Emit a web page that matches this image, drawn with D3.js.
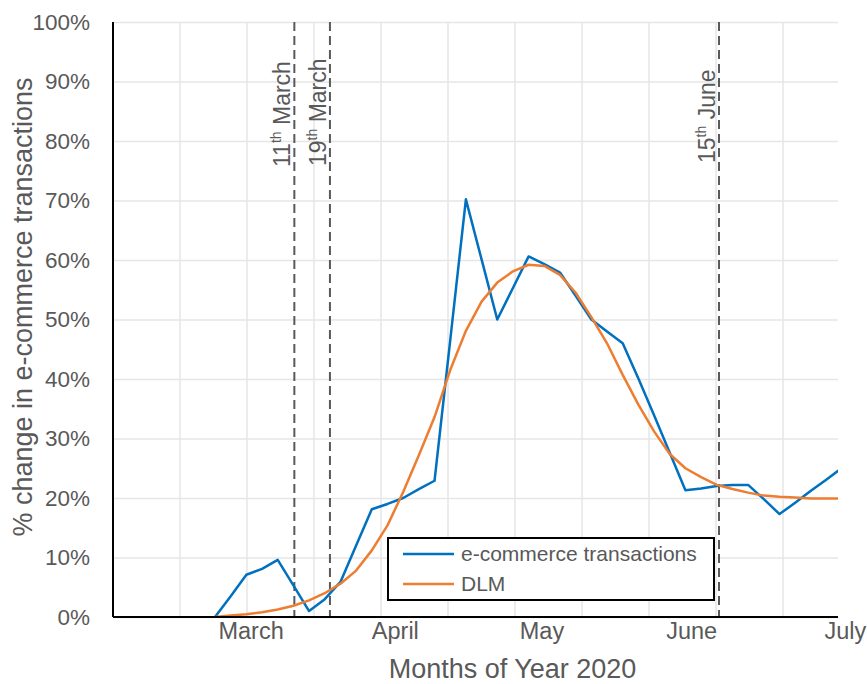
<!DOCTYPE html>
<html>
<head>
<meta charset="utf-8">
<script src="https://cdn.jsdelivr.net/npm/d3@7"></script>
<style>
  body { margin: 0; background: #fff; }
  text { font-family: "Liberation Sans", Arial, sans-serif; fill: #595959; }
</style>
</head>
<body>
<svg id="chart" width="867" height="684"></svg>
<script>
// Observation index (roughly twice a week) for both series
const ecommerce = [0, 3.5, 7.1, 8.1, 9.6, 5.3, 1.0, 3.0, 5.9, 12.0,
  18.1, 19.0, 20.0, 21.5, 22.9, 46.5, 70.2, 60.1, 50.0, 55.3,
  60.6, 59.3, 57.9, 54.0, 50.0, 48.0, 46.0, 40.1, 33.9, 27.6,
  21.3, 21.6, 22.0, 22.2, 22.2, 19.8, 17.3, 19.2, 21.2, 23.1, 25.1];
const dlm = [0, 0.25, 0.45, 0.8, 1.25, 1.9, 2.8, 4.0, 5.6, 7.8,
  11.2, 15.4, 21.0, 27.2, 33.6, 41.5, 48.1, 53.0, 56.2, 58.1,
  59.2, 59.0, 57.5, 54.5, 50.4, 46.0, 40.7, 35.7, 31.2, 27.4,
  25.0, 23.5, 22.2, 21.5, 20.9, 20.4, 20.2, 20.1, 19.9, 19.9, 19.9];

const monthLabels = ["March", "April", "May", "June", "July"];
const monthAt = [2.3, 11.5, 20.85, 30.4, 40.2];   // index where each month label is centred
const yTicks = [0, 10, 20, 30, 40, 50, 60, 70, 80, 90, 100];
const events = [
  { num: "11", sup: "th", rest: " March", at: 5.06, base: 167 },
  { num: "19", sup: "th", rest: " March", at: 7.33, base: 166 },
  { num: "15", sup: "th", rest: " June", at: 32.14, base: 163 }
];
const seriesNames = ["e-commerce transactions", "DLM"];
const seriesColors = ["#0070C0", "#ED7D31"];

const W = 867, H = 684;
const margin = { top: 22, right: 29, bottom: 67, left: 113 };
const iw = W - margin.left - margin.right;
const ih = H - margin.top - margin.bottom;

const svg = d3.select("#chart");
const g = svg.append("g").attr("transform", `translate(${margin.left},${margin.top})`);

const x = d3.scaleLinear().domain([-6.505, 39.73]).range([0, iw]);
const y = d3.scaleLinear().domain([0, 100]).range([ih, 0]);

// Vertical grid, evenly spaced across the plot
const gridStep = 4.273;
const vGrid = d3.range(x.domain()[0] + gridStep, x.domain()[1], gridStep);
g.append("g").selectAll("line").data(vGrid).join("line")
  .attr("x1", d => x(d)).attr("x2", d => x(d))
  .attr("y1", 0).attr("y2", ih)
  .attr("stroke", "#e6e6e6").attr("stroke-width", 1.5);

// Y axis: labels plus horizontal grid
const yAxis = g.append("g")
  .call(d3.axisLeft(y).tickValues(yTicks).tickFormat(d => d + "%").tickSize(-iw).tickPadding(23));
yAxis.select(".domain").remove();
yAxis.selectAll(".tick line").attr("stroke", "#e6e6e6").attr("stroke-width", 1.5);
yAxis.selectAll(".tick text").attr("font-size", 22.5).attr("fill", "#595959")
  .attr("font-family", "'Liberation Sans', Arial, sans-serif");

// Event markers
const ev = g.append("g").selectAll("g").data(events).join("g");
ev.append("line")
  .attr("x1", d => x(d.at)).attr("x2", d => x(d.at))
  .attr("y1", 0).attr("y2", ih)
  .attr("stroke", "#595959").attr("stroke-width", 2)
  .attr("stroke-dasharray", "9,5");
const evText = ev.append("text")
  .attr("transform", d => `translate(${x(d.at) - 4},${d.base - margin.top}) rotate(-90)`)
  .attr("font-size", 23);
evText.append("tspan").text(d => d.num);
evText.append("tspan").attr("dy", -9).attr("font-size", 14).text(d => d.sup);
evText.append("tspan").attr("dy", 9).text(d => d.rest);

// Series
g.append("clipPath").attr("id", "plot-clip")
  .append("rect").attr("width", iw).attr("height", ih + 2).attr("y", -2);
const line = d3.line().x((d, i) => x(i)).y(d => y(d));
[ecommerce, dlm].forEach((s, k) => {
  g.append("path").datum(s)
    .attr("clip-path", "url(#plot-clip)")
    .attr("fill", "none")
    .attr("stroke", seriesColors[k])
    .attr("stroke-width", 2.5)
    .attr("stroke-linejoin", "round")
    .attr("d", line);
});

// Axis lines
g.append("line").attr("x1", 0).attr("x2", 0).attr("y1", 0).attr("y2", ih)
  .attr("stroke", "#000").attr("stroke-width", 2);
g.append("line").attr("x1", 0).attr("x2", iw).attr("y1", ih).attr("y2", ih)
  .attr("stroke", "#000").attr("stroke-width", 2);

// Month labels
g.append("g").selectAll("text").data(monthLabels).join("text")
  .attr("x", (d, i) => x(monthAt[i]))
  .attr("y", ih + 22)
  .attr("text-anchor", "middle")
  .attr("font-size", 23.5)
  .text(d => d);

// Axis titles
svg.append("text")
  .attr("x", 512.5).attr("y", 678)
  .attr("text-anchor", "middle").attr("font-size", 27)
  .text("Months of Year 2020");
svg.append("text")
  .attr("transform", `translate(32,307) rotate(-90)`)
  .attr("text-anchor", "middle").attr("font-size", 27)
  .text("% change in e-commerce transactions");

// Legend
const lg = svg.append("g").attr("transform", "translate(388,538)");
lg.append("rect").attr("width", 326).attr("height", 62)
  .attr("fill", "#fff").attr("stroke", "#000").attr("stroke-width", 2);
const items = lg.selectAll("g.item").data(seriesNames).join("g")
  .attr("class", "item")
  .attr("transform", (d, i) => `translate(0,${16 + i * 30})`);
items.append("line").attr("x1", 15).attr("x2", 66)
  .attr("stroke", (d, i) => seriesColors[i]).attr("stroke-width", 2.5);
items.append("text").attr("x", 73).attr("y", 7)
  .attr("font-size", 21).text(d => d);
</script>
</body>
</html>
